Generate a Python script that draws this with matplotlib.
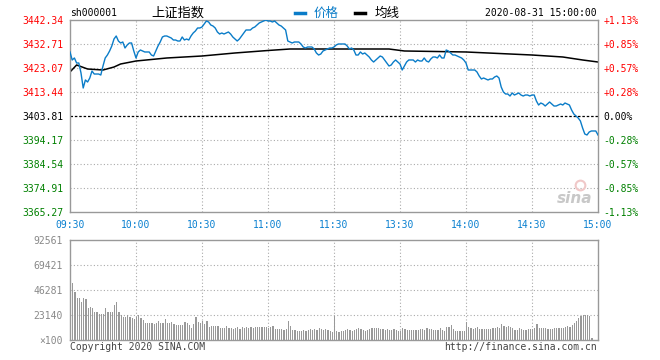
import matplotlib
matplotlib.use("Agg")
import matplotlib.pyplot as plt
from matplotlib.lines import Line2D

# price per minute, 09:30 .. 11:30 then 13:00 .. 15:00 (241 points)
prices = [
    3429.50, 3426.29, 3427.09, 3425.08, 3425.08, 3421.07, 3415.04, 3418.26, 3417.45, 3419.06,
    3421.87, 3420.66, 3420.66, 3420.66, 3420.26, 3423.88, 3427.09, 3428.29, 3429.90, 3431.91,
    3434.71, 3435.92, 3433.91, 3433.11, 3433.51, 3431.10, 3432.31, 3433.11, 3433.11, 3429.90,
    3427.09, 3429.50, 3430.30, 3429.90, 3429.50, 3429.50, 3429.50, 3428.29, 3427.89, 3429.90,
    3431.91, 3433.51, 3435.52, 3435.92, 3435.92, 3435.52, 3435.12, 3434.31, 3434.31, 3433.91,
    3433.91, 3435.52, 3434.31, 3434.71, 3434.31, 3435.92, 3437.12, 3437.93, 3439.13, 3439.13,
    3439.53, 3440.73, 3441.94, 3441.54, 3440.33, 3439.93, 3439.13, 3437.52, 3436.72, 3437.12,
    3436.72, 3437.12, 3437.52, 3436.72, 3435.52, 3434.71, 3433.91, 3434.71, 3435.92, 3437.12,
    3438.33, 3438.33, 3438.33, 3439.13, 3439.53, 3440.33, 3441.14, 3441.54, 3441.94, 3442.34,
    3441.94, 3441.94, 3441.54, 3441.94, 3441.14, 3440.33, 3439.93, 3439.13, 3438.33, 3433.91,
    3433.51, 3433.11, 3433.51, 3433.51, 3433.51, 3432.71, 3431.50, 3431.10, 3431.50, 3431.50,
    3431.50, 3430.70, 3429.10, 3428.29, 3428.69, 3429.90, 3430.30, 3430.70, 3431.10, 3431.10,
    3431.50, 3432.31, 3432.71, 3432.71, 3432.71, 3432.71, 3431.91, 3430.70, 3431.10, 3430.30,
    3428.29, 3428.29, 3429.50, 3428.69, 3429.10, 3428.29, 3427.49, 3426.29, 3425.48, 3426.29,
    3427.09, 3427.89, 3427.49, 3426.29, 3425.08, 3423.88, 3424.28, 3425.48, 3426.29, 3425.48,
    3424.68, 3422.27, 3423.88, 3425.48, 3426.29, 3426.29, 3426.29, 3425.48, 3426.29, 3425.88,
    3425.88, 3427.09, 3425.88, 3425.48, 3426.69, 3427.49, 3427.49, 3427.09, 3428.29, 3427.09,
    3427.09, 3430.30, 3429.90, 3429.10, 3428.29, 3428.29, 3427.89, 3427.49, 3427.09, 3426.29,
    3425.08, 3422.27, 3422.27, 3422.27, 3422.27, 3421.47, 3419.86, 3418.66, 3419.06, 3418.66,
    3418.26, 3418.66, 3418.66, 3419.46, 3419.86, 3419.06, 3415.45, 3413.44, 3412.64, 3412.64,
    3411.83, 3413.04, 3412.23, 3412.64, 3413.04, 3412.23, 3411.83, 3412.23, 3412.23, 3411.83,
    3412.23, 3412.23, 3409.83, 3408.22, 3409.02, 3408.62, 3407.82, 3408.62, 3409.42, 3408.62,
    3407.82, 3407.82, 3408.22, 3408.62, 3408.22, 3409.02, 3408.62, 3408.22, 3406.21, 3404.61,
    3403.81, 3403.00, 3401.80, 3398.99, 3396.58, 3396.18, 3397.38, 3397.79, 3397.79, 3397.79,
    3396.18,
]

# average line (minute, value)
avg_minutes = [0, 3, 8, 15, 20, 23, 30, 44, 60, 75, 90, 100, 120, 145, 152, 180, 210, 224, 233, 240]
avg_values = [3421.47, 3424.28, 3422.67, 3422.27, 3423.47, 3424.68, 3425.88, 3427.09, 3427.89,
              3429.10, 3430.10, 3430.70, 3430.70, 3430.70, 3429.90, 3429.50, 3428.29, 3427.49,
              3426.29, 3425.48]

# volume per minute (x100)
volumes = [
    92561, 53000, 44000, 39000, 39000, 35500, 38500, 37500, 29500, 31000,
    30000, 26000, 26000, 24000, 24000, 24000, 30000, 25500, 25500, 25500,
    32500, 35500, 26000, 23000, 21500, 21500, 23500, 21500, 20000, 19500,
    21000, 23500, 20500, 18500, 15500, 15500, 15500, 15500, 14500, 15500,
    17500, 16000, 15500, 19500, 15500, 15500, 17000, 14500, 13500, 13500,
    13500, 14000, 17000, 15500, 13500, 11500, 14500, 21000, 16500, 16000,
    17500, 15000, 17500, 12000, 12500, 13000, 12500, 12500, 11500, 11000,
    11500, 13000, 11500, 11000, 10500, 11500, 12000, 10500, 12000, 11000,
    12000, 11500, 12000, 11000, 12000, 12000, 12000, 12000, 12000, 12000,
    11500, 12000, 13000, 10500, 10000, 10000, 10000, 9500, 10500, 17500,
    12500, 9500, 9000, 8000, 8000, 8500, 9000, 8500, 9500, 10000,
    9500, 10500, 9500, 11000, 10500, 9500, 10000, 9000, 8000, 7500,
    22200, 8500, 7500, 8000, 8500, 9500, 10000, 9000, 8500, 9000,
    10000, 11000, 10500, 9000, 8500, 9000, 10000, 11000, 11500, 11000,
    11500, 10500, 10500, 9500, 10500, 9500, 9000, 10000, 9000, 8500,
    8000, 11500, 10000, 9500, 9000, 9000, 9500, 9000, 9000, 10000,
    10000, 9000, 11000, 10500, 10000, 9500, 9000, 9500, 11000, 9500,
    8500, 12000, 12000, 13500, 10000, 8500, 8500, 8500, 8500, 8000,
    16500, 12000, 11000, 10000, 11500, 12000, 10500, 10500, 10500, 10500,
    10000, 10500, 11000, 11500, 12000, 11500, 14500, 13000, 12000, 12500,
    12000, 11500, 9000, 9500, 11000, 10000, 9000, 9500, 10000, 10500,
    10000, 11000, 14500, 11500, 11000, 11000, 11000, 10500, 10000, 10500,
    11000, 11500, 11500, 11000, 11500, 12000, 12500, 11800, 13900, 15400,
    17600, 20700, 22000, 23100, 23100, 23100, 22000, 2000,
]

price_ticks = [3365.27, 3374.91, 3384.54, 3394.17, 3403.81, 3413.44, 3423.07, 3432.71, 3442.34]
pct_labels = ["-1.13%", "-0.85%", "-0.57%", "-0.28%", "0.00%", "+0.28%", "+0.57%", "+0.85%", "+1.13%"]
prev_close = 3403.81
time_ticks = [0, 30, 60, 90, 120, 150, 180, 210, 240]
time_labels = ["09:30", "10:00", "10:30", "11:00", "11:30", "13:30", "14:00", "14:30", "15:00"]
vol_ticks = [0, 23140, 46281, 69421, 92561]
vol_labels = ["\u00d7100", "23140", "46281", "69421", "92561"]

RED = "#ff0000"
GREEN = "#008000"
BLUE = "#0a7cc8"
FRAME = "#999999"
GRIDC = "#aaaaaa"
MONO = "DejaVu Sans Mono"
CJK = ["Noto Sans CJK SC", "DejaVu Sans"]

plt.rcParams["font.family"] = MONO

W, H = 660, 360
fig = plt.figure(figsize=(W / 100, H / 100), dpi=100)


def fx(x):
    return x / W


def fy(y):
    return 1 - y / H


def style_frame(a):
    for s in a.spines.values():
        s.set_color(FRAME)
        s.set_linewidth(1.0)
    a.tick_params(length=0)


# ---- price panel
ax = fig.add_axes([fx(70), fy(212), 528 / W, 192 / H])
ax.plot(range(len(prices)), prices, color=BLUE, lw=1.0, zorder=3)
ax.plot(avg_minutes, avg_values, color="black", lw=1.1, zorder=2)
ax.set_xlim(0, 240)
ax.set_ylim(price_ticks[0], price_ticks[-1])
for t in price_ticks[1:-1]:
    if t == prev_close:
        ax.axhline(t, color="black", lw=0.9, ls=(0, (2, 1.5)), zorder=1)
    else:
        ax.axhline(t, color=GRIDC, lw=0.8, ls=(0, (1, 2)), zorder=1)
for t in time_ticks[1:-1]:
    ax.axvline(t, color=GRIDC, lw=0.8, ls=(0, (1, 2)), zorder=1)
style_frame(ax)

ax.set_yticks(price_ticks)
ax.set_yticklabels([f"{v:.2f}" for v in price_ticks], fontsize=7)
ax.tick_params(axis="y", pad=5)
for lbl, v in zip(ax.get_yticklabels(), price_ticks):
    lbl.set_color(RED if v > prev_close else ("black" if v == prev_close else GREEN))

ax.set_xticks(time_ticks)
ax.set_xticklabels(time_labels, fontsize=7, color="#0a80d0")
ax.tick_params(axis="x", pad=6)

ax2 = ax.twinx()
ax2.set_ylim(ax.get_ylim())
ax2.set_yticks(price_ticks)
ax2.set_yticklabels(pct_labels, fontsize=7)
ax2.tick_params(axis="y", pad=4, length=0)
for lbl, v in zip(ax2.get_yticklabels(), price_ticks):
    lbl.set_color(RED if v > prev_close else ("black" if v == prev_close else GREEN))
for s in ax2.spines.values():
    s.set_visible(False)

# sina watermark
ax.text(0.955, 0.07, "sina", transform=ax.transAxes, fontsize=11, fontstyle="italic",
        fontweight="bold", family="DejaVu Sans", color="#c8c8c8", ha="center", va="center")
ax.plot([0.965], [0.14], transform=ax.transAxes, marker="o", ms=7, mfc="none",
        mec="#f0c8c8", mew=1.5)

# ---- volume panel
axv = fig.add_axes([fx(70), fy(340), 528 / W, 100 / H])
axv.bar(range(len(volumes)), volumes, width=0.5, align="edge", color="#999999", lw=0, zorder=2)
axv.set_xlim(0, 240)
axv.set_ylim(0, vol_ticks[-1])
for t in vol_ticks[1:-1]:
    axv.axhline(t, color=GRIDC, lw=0.8, ls=(0, (1, 2)), zorder=1)
for t in time_ticks[1:-1]:
    axv.axvline(t, color=GRIDC, lw=0.8, ls=(0, (1, 2)), zorder=1)
style_frame(axv)
axv.set_xticks([])
axv.set_yticks(vol_ticks)
axv.set_yticklabels(vol_labels, fontsize=7, color="#888888")
axv.tick_params(axis="y", pad=5)

# ---- header
fig.text(fx(70), fy(13), "sh000001", fontsize=7, ha="left", va="center")
fig.text(fx(151), fy(13), "上证指数", fontsize=9.5, family=CJK, ha="left", va="center")
fig.add_artist(Line2D([fx(295), fx(305)], [fy(12.5)] * 2, color=BLUE, lw=2.5))
fig.text(fx(314), fy(13), "价格", fontsize=9, family=CJK, color=BLUE, ha="left", va="center")
fig.add_artist(Line2D([fx(355), fx(365)], [fy(12.5)] * 2, color="black", lw=2.5))
fig.text(fx(375), fy(13), "均线", fontsize=9, family=CJK, ha="left", va="center")
fig.text(fx(597), fy(13), "2020-08-31 15:00:00", fontsize=7, ha="right", va="center")

# ---- footer
fig.text(fx(70), fy(347), "Copyright 2020 SINA.COM", fontsize=7, color="#444444",
         ha="left", va="center")
fig.text(fx(597), fy(347), "http://finance.sina.com.cn", fontsize=7, color="#444444",
         ha="right", va="center")

fig.savefig("out.png", dpi=100)
